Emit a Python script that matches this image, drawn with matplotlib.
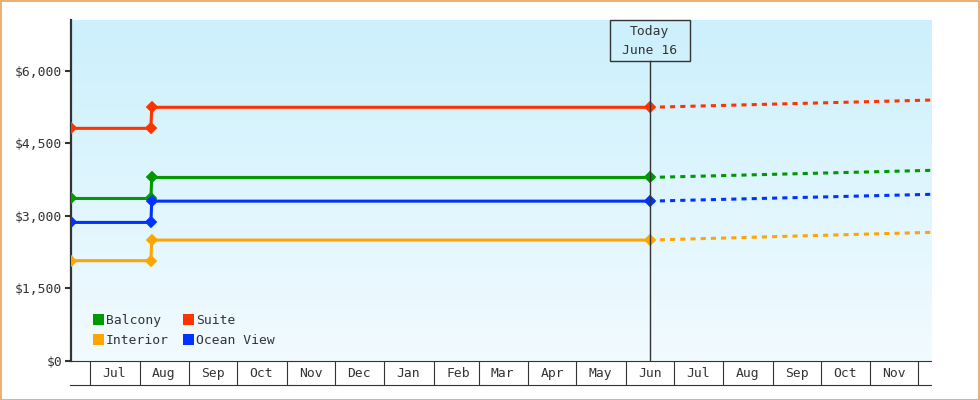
import matplotlib
matplotlib.use("Agg")
import matplotlib.pyplot as plt
import matplotlib.dates as mdates
import matplotlib.transforms as mtransforms
from matplotlib.patches import Patch, Rectangle
import numpy as np
import pandas as pd

# ---------------- data ----------------
categories = ["Balcony", "Interior", "Suite", "Ocean View"]
colors = ["#009900", "#ffa500", "#ff3300", "#0033ff"]

hist_dates = ["2022-06-19 00:00", "2022-08-08 00:00", "2022-08-08 12:00", "2023-06-16 00:00"]
balcony_hist = [3360, 3360, 3795, 3795]
interior_hist = [2075, 2075, 2500, 2500]
suite_hist = [4810, 4810, 5245, 5245]
ocean_hist = [2865, 2865, 3305, 3305]

fc_dates = ["2023-06-16 00:00", "2023-12-09 00:00"]
balcony_fc = [3795, 3942]
interior_fc = [2500, 2660]
suite_fc = [5245, 5395]
ocean_fc = [3305, 3446]

today = "2023-06-16"
today_label = "Today\nJune 16"
x_start, x_end = "2022-06-19", "2023-12-09"
y_max = 7050
y_ticks = [0, 1500, 3000, 4500, 6000]
y_tick_labels = ["$0", "$1,500", "$3,000", "$4,500", "$6,000"]

hist = [balcony_hist, interior_hist, suite_hist, ocean_hist]
fc = [balcony_fc, interior_fc, suite_fc, ocean_fc]

# ---------------- figure ----------------
W, H = 980, 400
fig = plt.figure(figsize=(W / 100, H / 100), dpi=100)
fig.patch.set_facecolor("white")
fig.patches.append(Rectangle((0.5 / W, 0.5 / H), 1 - 1.5 / W, 1 - 1.5 / H,
                             transform=fig.transFigure, fill=False,
                             edgecolor="#e5a25a", linewidth=1.2))

L, R, T, B = 71, 931, 20, 361
ax = fig.add_axes([L / W, (H - B) / H, (R - L) / W, (B - T) / H])
axh = B - T

FONT = "DejaVu Sans Mono"
FS = 9.4
TXT = "#333333"

# gradient background
grad = np.linspace(0, 1, 256).reshape(-1, 1)
top_c = np.array([204, 240, 252]) / 255
bot_c = np.array([242, 251, 255]) / 255
img = top_c[None, None, :] * (1 - grad[:, :, None]) + bot_c[None, None, :] * grad[:, :, None]
ax.imshow(img, aspect="auto", extent=[0, 1, 0, 1], transform=ax.transAxes, zorder=0)

hd = pd.to_datetime(hist_dates, format="%Y-%m-%d %H:%M")
fd = pd.to_datetime(fc_dates, format="%Y-%m-%d %H:%M")
for name, c, h, f in zip(categories, colors, hist, fc):
    ax.plot(fd, f, color=c, lw=2.2, linestyle=(0, (1.67, 1.67)), zorder=3)
    ax.plot(hd, h, color=c, lw=2.2, marker="D", markersize=5.0,
            markeredgewidth=1.3, markeredgecolor=c, zorder=4,
            solid_joinstyle="miter")

ax.set_xlim(pd.Timestamp(x_start), pd.Timestamp(x_end))
ax.set_ylim(0, y_max)

# today marker
td = pd.Timestamp(today)
box_h = 40.7 / axh
trans = mtransforms.blended_transform_factory(ax.transData, ax.transAxes)
ax.plot([td, td], [0, 1 - box_h], color="#333333", lw=1.0, transform=trans, zorder=5)
tdn = mdates.date2num(td)
box_w_days = 80 / ((R - L) / (mdates.date2num(pd.Timestamp(x_end)) - mdates.date2num(pd.Timestamp(x_start))))
ax.add_patch(Rectangle((tdn - box_w_days / 2, 1 - box_h), box_w_days, box_h,
                       transform=trans, fill=False, edgecolor="#333333", lw=1.0,
                       clip_on=False, zorder=5))
for i, line in enumerate(today_label.split("\n")):
    yy = (B - (32 + 18 * i)) / axh
    ax.text(td, yy, line, transform=trans, ha="center", va="center",
            fontsize=FS, family=FONT, color=TXT, zorder=6)

# spines
for s in ["top", "right"]:
    ax.spines[s].set_visible(False)
ax.spines["left"].set_linewidth(1.6)
ax.spines["left"].set_color("#333333")
ax.spines["bottom"].set_linewidth(0.8)
ax.spines["bottom"].set_color("#333333")

# y axis
ax.set_yticks(y_ticks)
ax.set_yticklabels(y_tick_labels, family=FONT, fontsize=FS, color=TXT)
ax.tick_params(axis="y", length=4.3, width=1.5, color="#333333", pad=2)

# x axis: month boundaries as long ticks, labels at mid-month
ax.xaxis.set_major_locator(mdates.MonthLocator())
ax.xaxis.set_major_formatter(plt.NullFormatter())
ax.xaxis.set_minor_locator(mdates.MonthLocator(bymonthday=16))
ax.xaxis.set_minor_formatter(mdates.DateFormatter("%b"))
ax.tick_params(axis="x", which="major", length=17.3, width=0.8, color="#333333")
ax.tick_params(axis="x", which="minor", length=0, pad=4.5, labelsize=FS,
               labelcolor=TXT)
for lab in ax.get_xticklabels(minor=True):
    lab.set_family(FONT)
ax.plot([-1 / (R - L), 1], [-24 / axh, -24 / axh], transform=ax.transAxes,
        color="#333333", lw=0.8, clip_on=False)

# legend
handles = [Patch(facecolor=c, edgecolor="none") for c in colors]
leg = ax.legend(handles, categories, ncol=2, loc="lower left",
                bbox_to_anchor=((92.7 - L) / (R - L), (B - 347) / axh),
                frameon=False, borderpad=0, borderaxespad=0,
                handlelength=0.85, handleheight=0.85, handletextpad=0.15,
                columnspacing=1.1, labelspacing=0.55,
                prop={"family": FONT, "size": FS})
for t in leg.get_texts():
    t.set_color(TXT)

fig.savefig("out.png", dpi=100)
